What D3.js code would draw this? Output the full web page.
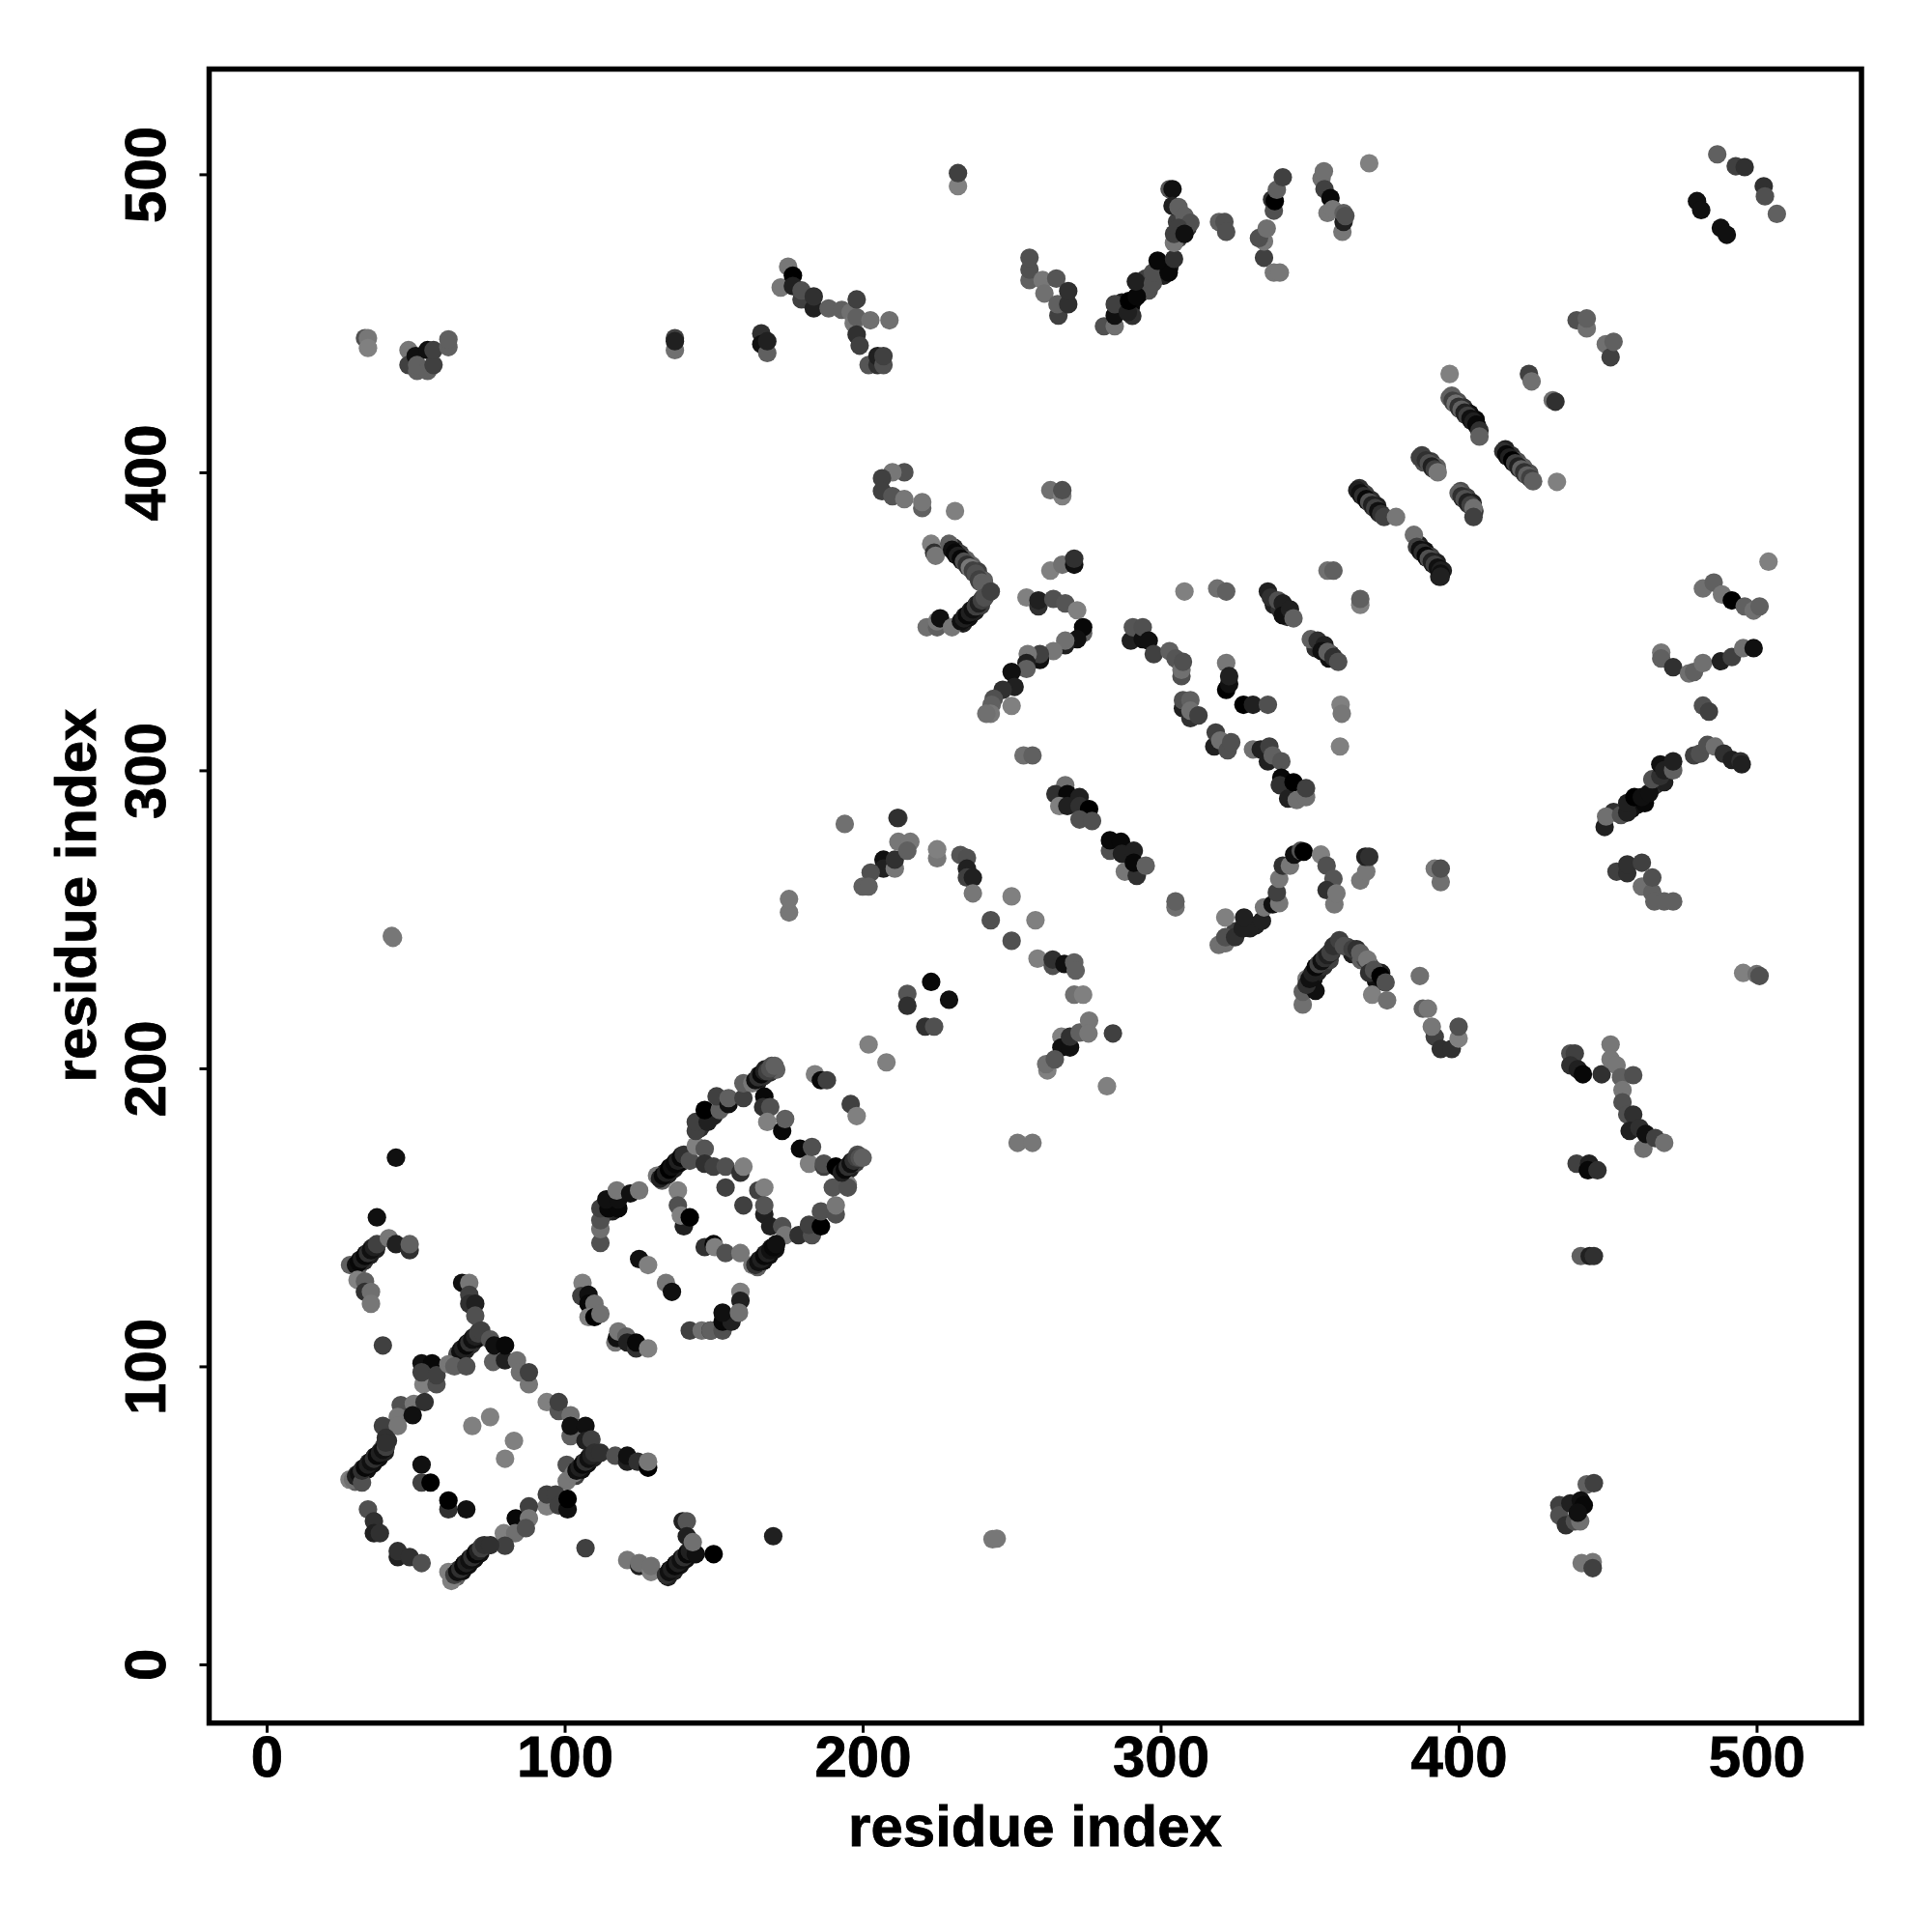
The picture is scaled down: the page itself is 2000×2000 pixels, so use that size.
<!DOCTYPE html>
<html><head><meta charset="utf-8">
<script src="https://cdn.jsdelivr.net/npm/d3@7/dist/d3.min.js"></script>
<style>html,body{margin:0;background:#fff}svg{display:block}</style></head>
<body><div id="chart"></div>
<script>
// each contact: [residue x, residue y, grey level]
const parallelLower=[[30.7,133.3,96],[31.3,135.7,32],[32.7,135.3,48],[33.3,137.7,16],[34.7,137.3,32],[35.3,139.7,48],[36.7,139.3,32],[64.7,103.3,64],[65.3,105.7,48],[66.7,105.3,32],[67.3,107.7,16],[68.7,107.3,48],[69.3,109.7,32],[70.7,109.3,16],[71.3,111.7,48],[29.7,61.3,96],[30.3,63.7,64],[31.7,63.3,16],[32.3,65.7,32],[33.7,65.3,16],[34.3,67.7,48],[35.7,67.3,16],[36.3,69.7,32],[37.7,69.3,16],[38.3,71.7,96],[39.7,71.3,32],[40.7,75,48],[39.5,73.5,80],[103.7,63.3,64],[104.3,65.7,32],[105.7,65.3,16],[106.3,67.7,32],[107.7,67.3,16],[108.3,69.7,48],[109.7,69.3,32],[63.7,29.3,96],[64.3,31.7,64],[65.7,31.3,16],[66.3,33.7,32],[67.7,33.3,16],[68.3,35.7,48],[69.7,35.3,16],[70.3,37.7,32],[71.7,37.3,16],[72.3,39.7,80],[134.7,29.3,32],[135.3,31.7,16],[136.7,31.3,32],[137.3,33.7,16],[138.7,33.3,16],[139.3,35.7,32],[140.7,35.3,16],[141.3,37.7,48]];
const parallelRing=[[132.7,162.3,96],[133.3,164.7,16],[134.7,164.3,32],[135.3,166.7,8],[136.7,166.3,32],[137.3,168.7,16],[138.7,168.3,8],[139.3,170.7,32],[164.7,195.3,32],[165.3,197.7,16],[166.7,197.3,48],[167.3,199.7,32],[168.7,198.5,48],[169.5,200.8,80],[171,199.5,96],[193.7,164.3,32],[194.3,166.7,16],[195.7,166.3,32],[196.3,168.7,16],[197.7,168.3,64],[198.3,171,80],[164.7,133.3,96],[165.3,135.7,32],[166.7,135.3,16],[167.3,137.7,32],[168.7,137.3,16],[169.3,139.7,32],[170.7,139.3,16],[117,155,16],[116,152,32],[113,151,48],[150,184,32],[145.5,180,48]];
const parallelChevron=[[230.7,374.7,48],[231.3,372.3,16],[232.7,372.7,64],[233.3,370.3,32],[234.7,370.7,96],[235.3,368.3,64],[236.7,368.7,96],[237.3,366.3,80],[238.7,366.7,64],[239.3,363.3,80],[240.7,363.7,96],[233.7,349.3,32],[234.3,351.7,32],[235.7,351.3,16],[236.3,353.7,48],[237.7,353.3,32],[238.3,355.7,48],[239.7,355.3,64],[240.3,357.7,80]];
const parallelLong=[[366.7,394.7,48],[367.3,392.3,32],[368.7,392.7,64],[369.3,390.3,16],[370.7,390.7,48],[371.3,388.3,64],[372.7,388.7,32],[373.3,386.3,48],[386.7,375.7,32],[387.3,373.3,48],[388.7,373.7,16],[389.3,371.3,32],[390.7,371.7,64],[391.3,369.3,16],[392.7,369.7,32],[393.3,367.3,32],[394.7,367,32],[393.5,365,32],[397.7,425.7,96],[398.3,423.3,80],[399.7,423.7,80],[400.3,421.3,64],[401.7,421.7,48],[402.3,419.3,64],[403.7,419.7,16],[404.3,417.3,32],[405.7,417.7,8],[406.3,415.3,48],[415.7,407.7,32],[416.3,405.3,16],[417.7,405.7,48],[418.3,403.3,16],[419.7,403.7,80],[420.3,401.3,48],[421.7,401.7,96],[422.3,399.3,64],[423.7,399.7,80],[387.7,405.7,64],[388.3,403.3,80],[390.7,403.7,64],[391.3,401.3,48],[392.7,401.7,96],[400.7,393.7,80],[401.3,391.3,32],[402.7,391.7,64],[403.3,389.3,48],[404.7,389.7,32],[405.3,387,48]];
const parallelUpper=[[286,454,8],[287,457,32],[288,455,16],[290,455.5,8],[291,458,8],[293,460,16],[290.5,452.5,48],[294,462,32],[295,465,64],[296,461,80],[298,465,48],[300,469,16],[301,466,32],[303,469,32],[305,480,48],[306,478.5,64],[307,483,48],[309,482,48],[305.5,484,64]];
const parallelLambda=[[325,246,64],[330,247,32],[332,248,32],[349.7,227.3,48],[351.3,230,16],[352.7,232.3,32],[353.3,234.7,16],[354.7,234.3,48],[355.3,236.7,32],[356.7,236.3,64],[357.3,238.7,48],[362.7,240.7,64],[364.3,238.3,32],[365.7,238.7,48],[367.3,236.3,96],[368.7,236.7,64],[370.3,234.3,64],[371.7,231.7,32],[372.3,229.3,16],[374,232,32],[375,229,8]];
const parallelOther=[[452,286,48],[458,287,16],[460,288.5,16],[462.5,289,8],[466,295,48],[469,296,32],[471,302,32],[338,355.5,32],[340,354,48],[342.5,351.5,48],[352,341,48],[354,342,32],[357,339,48],[356.5,337.5,16],[270,290,32],[275,285,48]];
const lowerLeftArm=[[37,150,16],[28,134,96],[30,134,16],[31,135,8],[32,136,32],[33,137,8],[34,138,48],[35,139,16],[36,140,32],[37,141,64],[41,143,119],[43.4,141,32],[48,139,48],[48,141,96],[30.5,129,130],[33,128.5,96],[33,125,48],[35,125,112],[35,121,119],[39,107,64]];
const diamondTop=[[65.6,128,16],[68,128,119],[68,124,64],[68,121,48],[70,121,32],[70,117,80],[64,104,80],[65,105,16],[66,106,32],[67,107,8],[68,108,48],[69,109,16],[70,110,32],[71,111,64],[72,112,64],[75,109,85],[76,101.5,96],[76.4,107,16],[80,102,32],[80,107,8],[84,102,112],[85,98,112],[88,94,119],[88,98,64],[52,101,16],[55.5,101,8],[52.6,94,128],[52,98,64],[57,94,80],[57,97,64],[61,100.7,119],[63,100,96],[67,100,80]];
const diamondLeft=[[45,87,80],[49.4,87.4,119],[53,88,48],[44,83,119],[49,83.6,16],[39,80,64],[44,80,119],[27.8,62,128],[29,62,112],[30,63,32],[31,64,16],[32,61,80],[32,65,48],[33,66,8],[34,67,32],[35,68,16],[36,69,48],[37,70,8],[38,71,32],[39,72,16],[40,73,64],[40,76,48],[40,74.4,48]];
const diamondInner=[[69,80,128],[75,83,128],[83,75,128],[80,69,128],[52,67,16],[52,61,64],[55,61,0],[61,52,48],[61,55,0],[67,52,16]];
const diamondRight=[[94,88,128],[98,85,85],[98,88,64],[102,83.6,112],[102,76.6,96],[102,80,16],[107,80,16],[107,75,32],[109,75.5,64],[100.7,67,80],[100.7,61.5,119],[103,64,119],[104,65,16],[105,66,32],[106,67,8],[107,68,48],[108,69,16],[109,70,32],[110,71,48],[112,71,48],[117,70,80],[121,68,32],[121,70,16],[124.5,68,48],[128,66,0],[128,68,119]];
const diamondLower=[[94,53,128],[94,57,64],[97,57,64],[98,53.3,64],[101,52,16],[101,55.5,0],[88,53,64],[83.6,49,8],[88,49,119],[79.6,44,128],[83.4,44,112],[87,45.7,80],[80,39.8,64],[61,31,128],[62,28,128],[63,30,64],[64,31,16],[65,32,48],[66,33,8],[67,34,32],[68,35,16],[69,36,48],[70,37,8],[71,38,32],[72,39,64],[73,40,48],[75,40,48]];
const diamondFoot=[[34,52,80],[36,48,48],[36,44,32],[38,44,48],[44,36,32],[44,38,48],[48,36,48],[52,34,80],[107,39,64],[121,35,119],[125,33,32],[125,34,112],[129,31,128],[129,33,112],[134,30,48],[135,31,16],[136,32,32],[137,33,8],[138,34,32],[139,35,16],[140,36,48],[141,37,8],[142,38,32],[144,37,16],[139.6,48,32],[141,48,85],[141,43,32],[143,41,112],[150,37,0],[170,43,32]];
const ringLowerLeft=[[106,128,128],[105.6,123.6,64],[108,124,16],[108,121,8],[110,121,112],[108,116.5,128],[110,116.5,0],[112,117.6,112],[117,108,119],[117.5,109.5,16],[118,111.7,119],[120.7,110,96],[121,108,32],[124,106,48],[124,108,8],[128,106,128],[125,136,16],[128,134,128],[134,128,119],[136,125,16]];
const ringLowerBottom=[[142,112,64],[146,112,112],[149,112,32],[149,112,96],[153,112,80],[153,115,8],[156,115,32],[153,118,16],[159,125,128],[159,122,32],[158.5,118,112]];
const ringLeftUpper=[[112,141.4,80],[112,146,112],[112,149,80],[112,153,64],[114.7,153,8],[118,153,8],[114,156,16],[118,156,16],[117.5,159,119],[122,158,16],[125,159,119]];
const ringCentre=[[138,159,128],[138,154,80],[140,147,32],[139,150.6,128],[142,150,0],[147,140,48],[150,141,8],[150.4,140,128],[154,138,80],[159,138,119],[154,160,64],[160,154,64],[165,159,64],[167,160,128],[167,151,32],[167,154,85],[169,147,32],[173,147,80],[174,144,119],[178.5,144,48],[183,144,80],[182,147.5,64],[186,147,0],[186,152,80],[191,151,80],[191,154,119],[195,161,128],[190,160,85],[195,160,80]];
const ringStrandA=[[131,164,119],[132,163,32],[133,164,8],[134,165,32],[135,166,0],[136,167,16],[137,168,8],[138,169,32],[139,170,8],[140,171,48],[142,169,80],[144,174,128],[147,173,85],[147,168,48],[150,167,64],[154,167,80],[159,165,48],[160,167,128],[144,179,64],[144,182,64],[148,182,32],[147,186,0],[152,186,96],[151,190.6,64],[155,188,16],[155,190,96],[160,190,64],[160,195,96],[163,195,119]];
const ringStrandB=[[167,190.5,8],[166.6,187,48],[169,187,80],[168,182,128],[173,179,8],[174,183,96],[164,196,16],[165,197,48],[166,198,8],[167,199,32],[168,199,64],[169,200,80],[170.5,200.8,96],[179,173,8],[182,168,128],[183,173.6,80],[187,167,64],[187,168,80],[191,167,0],[193,165,32],[194,166,8],[195,167,48],[196,168,16],[197,169,48],[198,170,64],[199,170,80],[200,170,96]];
const ringStrandC=[[163,134,119],[164,134,48],[165,135,16],[166,136,32],[167,137,8],[168,138,32],[169,139,16],[170,140,8],[171,141,16],[184,198,128],[186,196,8],[188,196,64],[196,188,64],[198,184,128],[202,208,128],[208,202,128],[223,229,8],[215,225,85],[215,221,48],[221,214,48],[224,214,80],[229,223,16]];
const armsTopLeft=[[214,400,80],[210,400,119],[206.5,398,64],[206.5,393.7,64],[210,392,85],[214,391,119],[220,388,96],[220,390,119],[231,387,128],[263,394,112],[267,392,128],[267,394,80]];
const chevronUpper=[[223,376,128],[224,373,48],[224.5,372,119],[229,376,96],[230,374,16],[231,373,8],[232,372,32],[233,371,8],[234,370,80],[235,369,48],[236,368,119],[237,367,64],[238,366,80],[239,364,64],[240,363,96],[241,362,96],[221.5,348,112],[225,348,96],[225,350,119],[226,351,16],[230,348,119],[233,350,16],[234,351,32],[235,352,8],[236,353,32],[237,354,16],[238,355,64],[239,356,32],[240,357,64],[241,358,80],[243,360,64]];
const chevronMiddle=[[263,367,128],[267,369,112],[271,369,16],[271,371,48],[255,358,128],[259,355,48],[259,357,32],[264,357.5,80],[268,356,85],[272,353.7,128],[274,346,96],[274,348,8],[272,344,16],[268,342,32],[268,343.5,112],[264,340,119],[259.5,337,16],[259.5,339,64],[255.4,339,119],[255,336,32],[255,334,96],[250,333,16],[251,328,32],[247,327,48],[250,321.6,128],[244,324,80],[243.3,322,96],[243,319,119],[241.5,319,112],[254,305,112],[257,305,96]];
const diagonalBandsA=[[290,343.5,32],[290.7,348,85],[294,344,16],[294,348,80],[296,343.5,16],[297.7,339,64],[303,340,96],[305,337.5,85],[307,331.6,80],[307,333.7,112],[307.5,336.4,80],[308,360,128],[319,361,112],[322,360,96],[322,336,119],[322,327,0],[323,329,16],[323,331.6,32],[307.5,320.8,32],[307.5,323.5,80],[310,323.5,96],[310,317.5,48],[310,320,112],[312.7,318.4,64],[327.8,322,0],[331,322,32],[336,322,80]];
const diagonalBandsB=[[318,308,32],[318.5,312.7,64],[320,310,112],[322.5,306.7,80],[323.7,309.4,80],[331,307,112],[333.6,307,32],[336.5,308,64],[336,303,32],[337.6,305,96],[340.5,303,85],[340.5,297.5,8],[340,295,48],[342.8,290.5,32],[344.6,296,0],[345.7,290,112],[348.8,291,112],[348.8,294,64],[360.2,308,128],[360.4,322,128],[360.8,319,119]];
const diagonalBandsC=[[336,360,32],[337,358,48],[339.4,357,80],[341,356,32],[341,352,16],[343.4,354,32],[344.6,351,96],[350.4,344,96],[352.7,343.5,48],[355,342,32],[354,340,16],[356,339.7,96],[358,338,48],[359.6,336.4,80],[356,367,112],[358,367,96],[367,355.5,128],[367,357.5,96]];
const longDiagonalA=[[366,394,32],[367,393,16],[368,392,48],[369,391,8],[370,390,80],[371,389,32],[372,388,64],[373,387,16],[374,386,48],[375,385,64],[379,385,119],[385,379,112],[386,375,64],[387,374,16],[388,373,48],[389,372,8],[390,371,80],[391,370,32],[392,369,64],[393,368,16],[394,367,32],[394,366,16],[394,365,32]];
const longDiagonalB=[[387,405,64],[389,404,48],[390,403,80],[391,402,32],[392,401,64],[393,400,119],[400,393,96],[401,392,48],[402,391,80],[403,390,32],[404,389,64],[405,388,112],[405,385,64],[397,433,128],[423.6,433,64],[424.5,430.5,112],[431.6,424.2,112],[432.5,423.7,48],[439.6,451,80],[443,448.3,112],[443,451.6,96],[449.4,443,112],[451,438.6,64],[452,443.8,96]];
const longDiagonalC=[[397,425,96],[398,424,64],[399,423,112],[400,422,48],[401,421,96],[402,420,32],[403,419,64],[404,418,16],[405,417,32],[406,416,8],[407,414,48],[407,412,96],[415,407,48],[416,406,8],[417,405,32],[418,404,0],[419,403,64],[420,402,32],[421,401,96],[422,400,48],[423,399,96],[424,398,64],[425,397,96],[433,396.8,128]];
const lowerBands=[[268,295,112],[264.7,292,48],[268.7,292,8],[272.8,291,32],[266,288,128],[268.7,288,32],[272.8,288,48],[276,287,0],[272.8,283.5,80],[277,283,80],[283,273,80],[283,276.5,8],[286.7,276,8],[287,272,32],[288,266,119],[291,273,32],[292,264.6,48],[291,269,8],[295,268,96]];
const peakLeft=[[212,284,80],[207,270,16],[207,267,32],[210.8,267,119],[210.8,270,48],[212,276,119],[216,276,119],[215,273,96],[202.7,265.7,80],[200,261,96],[202,261,96],[194,282,112],[211.7,284,48],[225,270.5,119],[225,273.5,128],[232.8,271.6,85],[235,270.6,80],[235,267,32],[235,264,64],[237,264,32],[237,258.7,119],[250,257.7,128],[243,249.7,80],[258,249.7,128],[250,242.8,80]];
const peakRight=[[258.7,236.8,128],[263.8,234.4,80],[263.8,236.5,48],[267.7,235,16],[271,235.5,96],[271.5,232.8,96],[271,224.7,112],[274,224.7,128],[266.7,210.6,128],[266.7,207,16],[269.6,207,16],[269.6,210.6,48],[272.8,212,96],[276,216,119],[275.8,211.7,119],[262,199.3,128],[261.6,201.4,112],[264.5,203,85],[284,211.7,64],[282,194,128]];
const lambdaA=[[305,254,112],[305,256,96],[321.7,250.6,128],[319.5,241.4,112],[321.7,242,112],[321.7,244,80],[325,244,48],[327.5,247,32],[328,250.6,32],[334,249.5,32],[334.7,254,119],[337.6,255,16],[339.8,255.4,119],[339,259,64],[339.8,263.6,119],[341,268,48],[343.4,268,119],[344.8,271.7,16],[347,273,80],[348,272.7,0],[353.8,271.7,128],[355.7,268,80],[358,263.6,85],[355.7,259.8,48],[358.3,255,119],[359,258.7,119],[367,263,119],[369,266,119],[368.7,271,32],[370,271,48],[392,267,119],[394,262.5,112],[394,267,80]];
const lambdaB=[[347.7,221.4,112],[347.7,225.7,96],[349,230,119],[352,226,16],[349,228,48],[350,230,16],[351,232,32],[352,234,8],[353,235,64],[354,236,16],[355,237,48],[356,238,32],[357,239,64],[358,241,48],[360,243,64],[361.5,241,80],[364.4,240,64],[365.8,240,48],[367,238.7,96],[369.4,236.5,119],[370,232,48],[371.6,233,80],[373.8,231,0],[371,224.7,128],[375.5,228.8,80],[376,222.8,112],[387,231,112],[388,220,96],[389.7,220,119],[392,210.6,64],[391,214,119],[394,206.5,48],[397.7,206.5,48],[400,210,128],[400,214,80]];
const upperTopLeft=[[33,445,80],[34,445,119],[34,441.7,128],[47.6,441,119],[47.6,436,64],[50,439,16],[50.5,434,96],[50.5,436,96],[54,434,96],[54,441,16],[56,436,64],[56,441,64],[61,442,96],[61,444.6,96],[137,441,112],[137,445,64],[137,444,32],[166,446.6,48],[166,443,16],[168,440,96],[168,444,32]];
const upperTopMiddle=[[175,469,119],[172.5,462,119],[176.6,466,0],[176.6,462.5,32],[179.5,458,64],[179.5,461,80],[183.6,455,32],[183.6,459,48],[188.6,455,96],[193,454.5,96],[196,453.7,112],[197,450,119],[198,452,96],[198,458,64],[198,446.2,48],[199,442.5,64],[202.6,451,112],[209,451,112],[202,436,85],[205,436,48],[205,439,32],[207,436,80],[207,439,64],[232,496,128],[232,500.4,64]];
const upperStrandA=[[256,464.5,96],[256,468,80],[256,472,80],[260.4,464.5,119],[261,460,112],[265,465,85],[265.7,452.6,64],[265.4,456.4,96],[269,456.4,48],[269,460.8,48],[281,449,80],[284.6,449,112],[284.6,452.6,16],[284.6,456.4,64],[289,453.7,32],[289.4,457.5,0],[292,459,8],[291.7,464,32],[297.4,463.5,80],[297.4,467,80],[302.7,467,8],[299,471,8],[304.5,471.6,48]];
const upperStrandB=[[303,495,85],[304,495,16],[304,489.4,32],[306,489,96],[308,486,96],[310,483.7,80],[304.5,477,119],[304.5,480,64],[306,482,64],[308,480,16],[319.6,484,96],[321.4,484,80],[322,480.7,80],[334.7,472,64],[334.7,477.5,119],[333,478.6,80],[335.6,481.8,112],[338,467,119],[340,467,119],[337.4,491.5,48],[338,487.8,80],[338.3,491,0],[339,494.8,96],[341,499,64],[354,498.6,112],[354.8,501,112],[355,495,64],[357,492,8],[356,487,119],[357.8,488.3,119],[361,480.7,119],[361.4,484,32],[361.4,487,96],[362,486,80],[370,503.7,128]];
const topRight=[[486.8,506.7,96],[493,502.7,64],[496,502.4,48],[502.4,496,48],[502.8,492.6,80],[506.8,486.7,96],[480,491,16],[481.4,488,16],[488,482,16],[490,479.7,16]];
const rightStrand=[[449,281,32],[449.5,284.5,112],[454.5,285,80],[456.6,285.8,32],[456.6,289,32],[459,291,0],[461.5,291,16],[464,292.4,16],[465,297,80],[467.7,298,48],[467.7,302,16],[469,300,32],[472,300,96],[472,303,32],[479,305,64],[481,305.6,80],[483.5,308.5,80],[486,308,112],[489,305.6,48],[491.7,303.5,32],[494.6,303,48],[495,302,32],[482,321.7,80],[484,319.7,64]];
const rightUpper=[[468,339.5,119],[468,337.5,96],[472,334.6,48],[477.3,332.5,112],[479,333,96],[482,336,112],[488,336.6,32],[491.7,338,64],[495.5,341,112],[499,341,16],[482,361,112],[485.6,363,96],[488.4,359,119],[491.7,357,0],[496,355,96],[499,353.6,112],[501,355,96],[504,370,128],[495.5,232,128],[500,231.6,112],[501,231,80]];
const rightLower=[[453,266,64],[456.6,265.5,48],[456.6,268.4,48],[461.5,261,112],[461.5,269,64],[465,259,96],[465,264,80],[465.7,256,96],[469,256,96],[472,256,96],[437.5,205,80],[439,205,64],[437.5,201,48],[440,199.7,32],[441.7,198,8],[448,198,48],[451,208,119],[451,203,119],[453,201,119],[454.5,197,96],[458.6,197.7,80],[455,192.7,119],[455,188.6,80],[456.6,184.5,80],[458.6,184.5,48],[457.4,179,32],[460.7,180,48],[462,173,112],[462.8,178,16],[466,176.6,64],[469,175,112]];
const rightBottom=[[439.6,168,64],[443.8,168,32],[443.4,165.8,8],[446.6,165.8,48],[441,137,96],[444,137,32],[445.4,137,48],[443,60.4,96],[445.4,60.8,64],[433.8,53.4,64],[433.8,50,80],[436,46.7,48],[437.5,54,32],[441,55,16],[442,53.4,8],[439,48,80],[440.8,48,112],[440,50.9,16],[441.3,34,119],[445,34.3,119],[445,32.3,64]];
const strays=[[42,244.4,119],[42.4,243.8,119],[243.6,42,119],[245,42.2,119],[175.3,252.3,119],[175.3,256.8,119],[252,175,119],[257,175,119],[43.4,170,16]];

const contactGroups=[parallelLower,parallelRing,parallelChevron,parallelLong,parallelUpper,parallelLambda,parallelOther,lowerLeftArm,diamondTop,diamondLeft,diamondInner,diamondRight,diamondLower,diamondFoot,ringLowerLeft,ringLowerBottom,ringLeftUpper,ringCentre,ringStrandA,ringStrandB,ringStrandC,armsTopLeft,chevronUpper,chevronMiddle,diagonalBandsA,diagonalBandsB,diagonalBandsC,longDiagonalA,longDiagonalB,longDiagonalC,lowerBands,peakLeft,peakRight,lambdaA,lambdaB,upperTopLeft,upperTopMiddle,upperStrandA,upperStrandB,topRight,rightStrand,rightUpper,rightLower,rightBottom,strays];
const tickValues=[0,100,200,300,400,500];
const xTitle="residue index", yTitle="residue index";

const font='"Liberation Sans",Arial,sans-serif';
const svg=d3.select("#chart").append("svg").attr("width",2000).attr("height",2000);
const x=d3.scaleLinear().domain([-19.3,535.2]).range([216.5,1927]);
const y=d3.scaleLinear().domain([-19.7,535.3]).range([1783.7,71.5]);

svg.append("g").selectAll("circle").data(contactGroups.flat()).join("circle")
  .attr("cx",d=>x(d[0])).attr("cy",d=>y(d[1])).attr("r",9.6)
  .attr("fill",d=>d3.rgb(d[2],d[2],d[2]).formatHex());

svg.append("rect").attr("x",216.5).attr("y",71.5).attr("width",1710.5).attr("height",1712.2)
  .attr("fill","none").attr("stroke","#000").attr("stroke-width",5.5);

const gx=svg.append("g").attr("transform","translate(0,1783.7)")
  .call(d3.axisBottom(x).tickValues(tickValues).tickSize(10).tickFormat(d3.format("d")));
const gy=svg.append("g").attr("transform","translate(216.5,0)")
  .call(d3.axisLeft(y).tickValues(tickValues).tickSize(10).tickFormat(d3.format("d")));
[gx,gy].forEach(g=>{g.select(".domain").remove();g.selectAll("line").attr("stroke","#000").attr("stroke-width",3);
  g.selectAll("text").attr("fill","#000").attr("stroke","#000").attr("stroke-width",0.8).style("font",`bold 60px ${font}`);});
gx.selectAll("text").attr("y",0).attr("dy",0).attr("transform","translate(0,55.5)").attr("text-anchor","middle");
gy.selectAll("text").attr("x",0).attr("dy",0).attr("y",0).attr("transform","translate(-45.5,0) rotate(-90)").attr("text-anchor","middle");

svg.append("text").attr("x",1071.5).attr("y",1911).attr("text-anchor","middle").attr("stroke","#000").attr("stroke-width",0.8)
  .style("font",`bold 60px ${font}`).text(xTitle);
svg.append("text").attr("transform","translate(99,927) rotate(-90)").attr("text-anchor","middle").attr("stroke","#000").attr("stroke-width",0.8)
  .style("font",`bold 60px ${font}`).text(yTitle);
</script></body></html>
